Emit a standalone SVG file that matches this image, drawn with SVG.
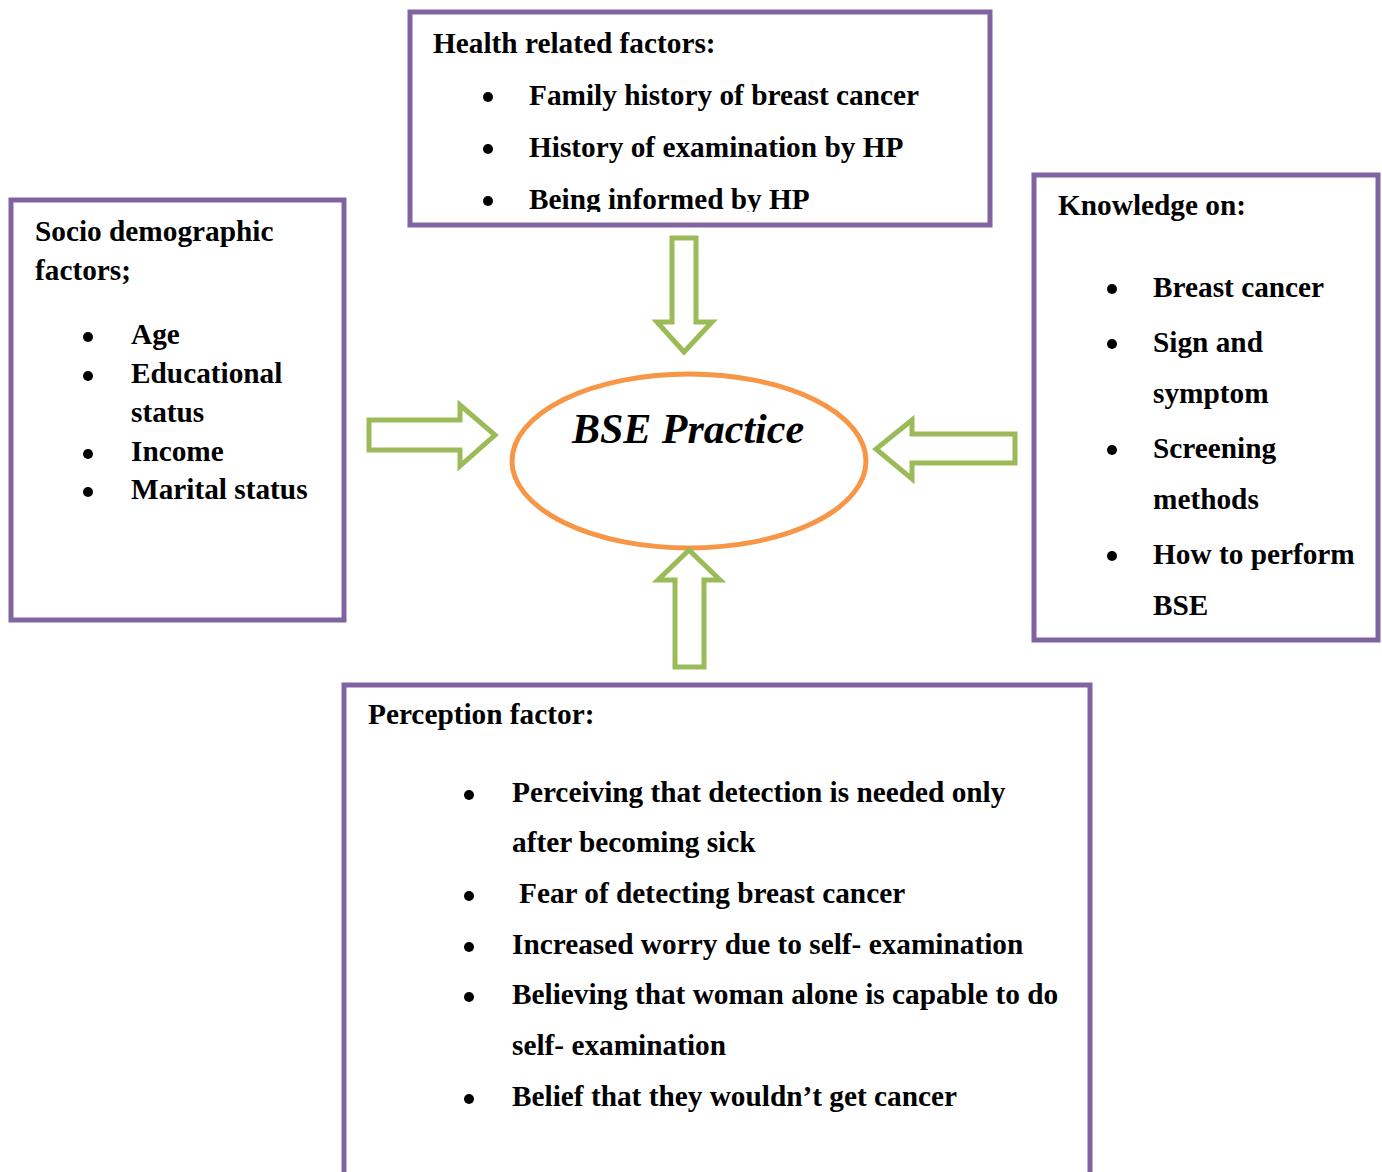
<svg xmlns="http://www.w3.org/2000/svg" width="1382" height="1172" viewBox="0 0 1382 1172">
<style>
.box{fill:#fff;stroke:#8064A2;stroke-width:5}
.arr{fill:#fff;stroke:#9BBB59;stroke-width:5;stroke-linejoin:miter}
.t{font-family:"Liberation Serif","Times New Roman",serif;font-weight:bold;font-size:29.3px;fill:#000}
.b{fill:#000}
</style>
<defs>
<clipPath id="topclip"><rect x="412" y="14" width="576" height="198"/></clipPath>
</defs>
<rect width="1382" height="1172" fill="#fff"/>

<g id="health">
<rect class="box" x="410" y="12" width="580" height="213"/>
<g clip-path="url(#topclip)">
<text class="t" x="433" y="53">Health related factors:</text>
<circle class="b" cx="488" cy="97" r="5"/>
<text class="t" x="529" y="105">Family history of breast cancer</text>
<circle class="b" cx="488" cy="149" r="5"/>
<text class="t" x="529" y="157">History of examination by HP</text>
<circle class="b" cx="488" cy="201" r="5"/>
<text class="t" x="529" y="209">Being informed by HP</text>
</g>
</g>

<g id="socio">
<rect class="box" x="11" y="200" width="333" height="420"/>
<text class="t" x="35" y="241">Socio demographic</text>
<text class="t" x="35" y="280">factors;</text>
<circle class="b" cx="88" cy="337" r="5"/>
<text class="t" x="131" y="344">Age</text>
<circle class="b" cx="88" cy="376" r="5"/>
<text class="t" x="131" y="383">Educational</text>
<text class="t" x="131" y="422">status</text>
<circle class="b" cx="88" cy="454" r="5"/>
<text class="t" x="131" y="461">Income</text>
<circle class="b" cx="88" cy="492" r="5"/>
<text class="t" x="131" y="499">Marital status</text>
</g>

<g id="knowledge">
<rect class="box" x="1034" y="175" width="344" height="465"/>
<text class="t" x="1058" y="215">Knowledge on:</text>
<circle class="b" cx="1112" cy="289" r="5"/>
<text class="t" x="1153" y="297">Breast cancer</text>
<circle class="b" cx="1112" cy="344" r="5"/>
<text class="t" x="1153" y="352">Sign and</text>
<text class="t" x="1153" y="403">symptom</text>
<circle class="b" cx="1112" cy="450" r="5"/>
<text class="t" x="1153" y="458">Screening</text>
<text class="t" x="1153" y="509">methods</text>
<circle class="b" cx="1112" cy="556" r="5"/>
<text class="t" x="1153" y="564">How to perform</text>
<text class="t" x="1153" y="615">BSE</text>
</g>

<g id="perception">
<path class="box" d="M344,1175 V685 H1090 V1175"/>
<text class="t" x="368" y="724">Perception factor:</text>
<circle class="b" cx="469" cy="795" r="5"/>
<text class="t" x="512" y="802">Perceiving that detection is needed only</text>
<text class="t" x="512" y="852">after becoming sick</text>
<circle class="b" cx="469" cy="896" r="5"/>
<text class="t" x="519" y="903">Fear of detecting breast cancer</text>
<circle class="b" cx="469" cy="947" r="5"/>
<text class="t" x="512" y="954">Increased worry due to self- examination</text>
<circle class="b" cx="469" cy="997" r="5"/>
<text class="t" x="512" y="1004">Believing that woman alone is capable to do</text>
<text class="t" x="512" y="1055">self- examination</text>
<circle class="b" cx="469" cy="1099" r="5"/>
<text class="t" x="512" y="1106">Belief that they wouldn’t get cancer</text>
</g>

<g id="bse">
<ellipse cx="689" cy="461" rx="177" ry="87" fill="#fff" stroke="#F79646" stroke-width="5"/>
<text x="688" y="443" text-anchor="middle" font-family="'Liberation Serif','Times New Roman',serif" font-weight="bold" font-style="italic" font-size="42" fill="#000">BSE Practice</text>
</g>

<g id="connectors">
<path class="arr" d="M672,238 H696 V322 H712 L684,352 L657,322 H672 Z"/>
<path class="arr" d="M369,420 H460 V405 L495,435 L460,466 V450 H369 Z"/>
<path class="arr" d="M1015,434 H912 V420 L876,449 L912,479 V463 H1015 Z"/>
<path class="arr" d="M675,667 H704 V580 H720 L689,550 L658,580 H675 Z"/>
</g>
</svg>
